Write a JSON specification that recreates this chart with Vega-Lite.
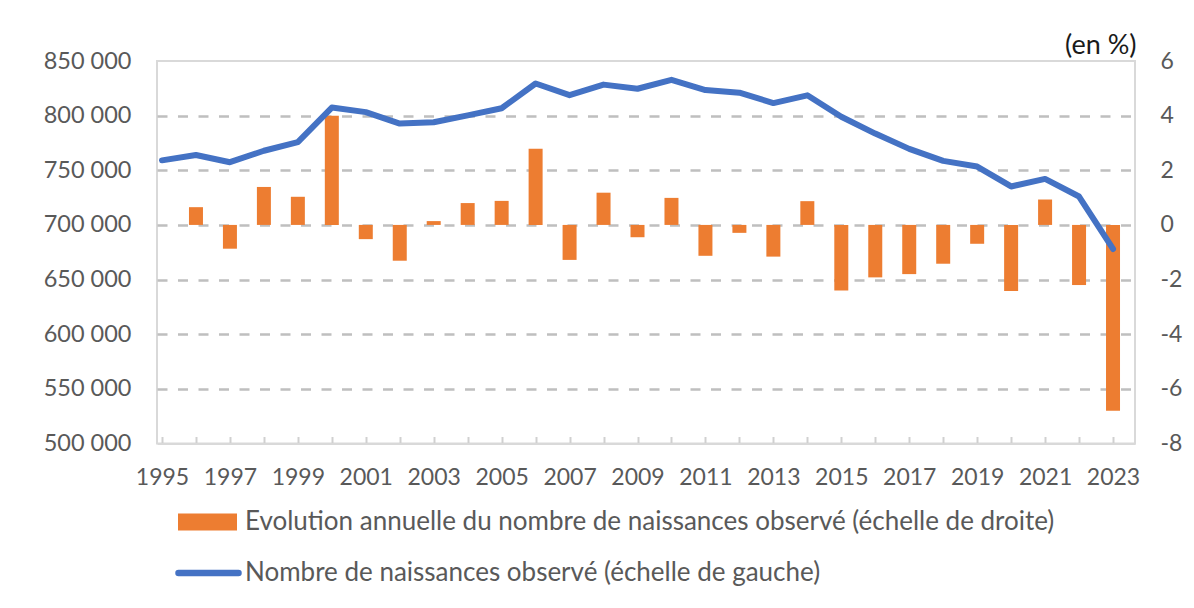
{
  "$schema": "https://vega.github.io/schema/vega-lite/v6.json",
  "autosize": {"type": "none"},
  "padding": {"left": 157, "top": 61, "right": 59, "bottom": 164.5},
  "width": 978,
  "height": 382.5,
  "background": "white",
  "config": {
    "view": {"stroke": "#d9d9d9", "strokeWidth": 2},
    "font": "Lato"
  },
  "data": {
    "values": [
      {"annee": 1995, "naissances": 759100, "evolution": null},
      {"annee": 1996, "naissances": 764000, "evolution": 0.65},
      {"annee": 1997, "naissances": 757400, "evolution": -0.87},
      {"annee": 1998, "naissances": 767900, "evolution": 1.39},
      {"annee": 1999, "naissances": 775800, "evolution": 1.03},
      {"annee": 2000, "naissances": 807400, "evolution": 4.0},
      {"annee": 2001, "naissances": 803200, "evolution": -0.52},
      {"annee": 2002, "naissances": 792700, "evolution": -1.31},
      {"annee": 2003, "naissances": 793900, "evolution": 0.14},
      {"annee": 2004, "naissances": 800200, "evolution": 0.8},
      {"annee": 2005, "naissances": 806800, "evolution": 0.88},
      {"annee": 2006, "naissances": 829400, "evolution": 2.79},
      {"annee": 2007, "naissances": 818700, "evolution": -1.28},
      {"annee": 2008, "naissances": 828400, "evolution": 1.18},
      {"annee": 2009, "naissances": 824600, "evolution": -0.45},
      {"annee": 2010, "naissances": 832800, "evolution": 0.99},
      {"annee": 2011, "naissances": 823400, "evolution": -1.13},
      {"annee": 2012, "naissances": 821000, "evolution": -0.29},
      {"annee": 2013, "naissances": 811500, "evolution": -1.16},
      {"annee": 2014, "naissances": 818600, "evolution": 0.87},
      {"annee": 2015, "naissances": 799000, "evolution": -2.4},
      {"annee": 2016, "naissances": 783600, "evolution": -1.92},
      {"annee": 2017, "naissances": 769600, "evolution": -1.8},
      {"annee": 2018, "naissances": 758600, "evolution": -1.42},
      {"annee": 2019, "naissances": 753400, "evolution": -0.69},
      {"annee": 2020, "naissances": 735200, "evolution": -2.42},
      {"annee": 2021, "naissances": 742100, "evolution": 0.93},
      {"annee": 2022, "naissances": 726000, "evolution": -2.2},
      {"annee": 2023, "naissances": 678000, "evolution": -6.8}
    ]
  },
  "encoding": {
    "x": {
      "field": "annee",
      "type": "quantitative",
      "scale": {"domain": [1995, 2023.5], "nice": false, "zero": false},
      "axis": {
        "title": null,
        "values": [1995,1996,1997,1998,1999,2000,2001,2002,2003,2004,2005,2006,2007,2008,2009,2010,2011,2012,2013,2014,2015,2016,2017,2018,2019,2020,2021,2022,2023],
        "format": "d",
        "labelExpr": "(datum.value - 1995) % 2 == 0 ? datum.label : ''",
        "labelFlush": false,
        "labelOverlap": false,
        "labelFont": "Lato",
        "labelFontSize": 23,
        "labelColor": "#595959",
        "labelPadding": 30,
        "tickColor": "#d0d0d0",
        "tickWidth": 2,
        "tickSize": -7,
        "domainColor": "#d9d9d9",
        "domainWidth": 2,
        "grid": false
      }
    }
  },
  "layer": [
    {
      "mark": {"type": "bar", "width": 14},
      "encoding": {
        "y": {
          "field": "evolution",
          "type": "quantitative",
          "scale": {"domain": [-8, 6], "nice": false},
          "axis": {
            "orient": "right",
            "values": [-8,-6,-4,-2,0,2,4,6],
            "labelExpr": "'' + datum.value",
            "grid": false,
            "ticks": false,
            "domain": false,
            "labelPadding": 25,
            "labelFont": "Lato",
            "labelFontSize": 23,
            "labelColor": "#595959",
            "title": "(en %)",
            "titleAngle": 0,
            "titleAlign": "right",
            "titleBaseline": "alphabetic",
            "titleX": 1,
            "titleY": -8,
            "titleFont": "Lato",
            "titleFontSize": 27,
            "titleFontWeight": "normal",
            "titleColor": "#1a1a1a"
          }
        },
        "color": {
          "datum": "Evolution annuelle du nombre de naissances observé (échelle de droite)",
          "type": "nominal",
          "scale": {
            "domain": ["Evolution annuelle du nombre de naissances observé (échelle de droite)", "Nombre de naissances observé (échelle de gauche)"],
            "range": ["#ED7D31", "#4472C4"]
          },
          "legend": {
            "title": null,
            "orient": "none",
            "legendX": 18,
            "legendY": 448,
            "direction": "vertical",
            "padding": 0,
            "labelFont": "Lato",
            "labelFontSize": 26,
            "labelColor": "#595959",
            "labelLimit": 1200,
            "labelOffset": 44,
            "rowPadding": 25,
            "symbolSize": 400,
            "encode": {
              "symbols": {
                "update": {
                  "shape": {"signal": "datum.index === 1 ? 'M-0.95,0H5.05' : 'M-1,-0.85H4.9V0.85H-1Z'"},
                  "fill": {"signal": "datum.index === 1 ? 'transparent' : '#ED7D31'"},
                  "stroke": {"signal": "datum.index === 1 ? '#4472C4' : 'transparent'"},
                  "strokeWidth": {"signal": "datum.index === 1 ? 6.5 : 0"},
                  "strokeCap": {"value": "round"},
                  "size": {"value": 400},
                  "opacity": {"value": 1}
                }
              }
            }
          }
        }
      }
    },
    {
      "mark": {"type": "line", "strokeWidth": 6, "strokeCap": "round", "strokeJoin": "round"},
      "encoding": {
        "y": {
          "field": "naissances",
          "type": "quantitative",
          "scale": {"domain": [500000, 850000], "nice": false, "zero": false},
          "axis": {
            "orient": "left",
            "title": null,
            "values": [500000,550000,600000,650000,700000,750000,800000,850000],
            "labelExpr": "replace(format(datum.value, ','), ',', ' ')",
            "ticks": false,
            "domain": false,
            "labelPadding": 26,
            "labelFont": "Lato",
            "labelFontSize": 23.5,
            "labelColor": "#595959",
            "grid": true,
            "gridColor": "#bfbfbf",
            "gridWidth": 2.5,
            "gridDash": [10, 10.5],
            "gridOpacity": {"condition": {"test": "datum.value == 850000 || datum.value == 500000", "value": 0}, "value": 1}
          }
        },
        "color": {
          "datum": "Nombre de naissances observé (échelle de gauche)",
          "type": "nominal"
        }
      }
    }
  ],
  "resolve": {"scale": {"y": "independent"}}
}
